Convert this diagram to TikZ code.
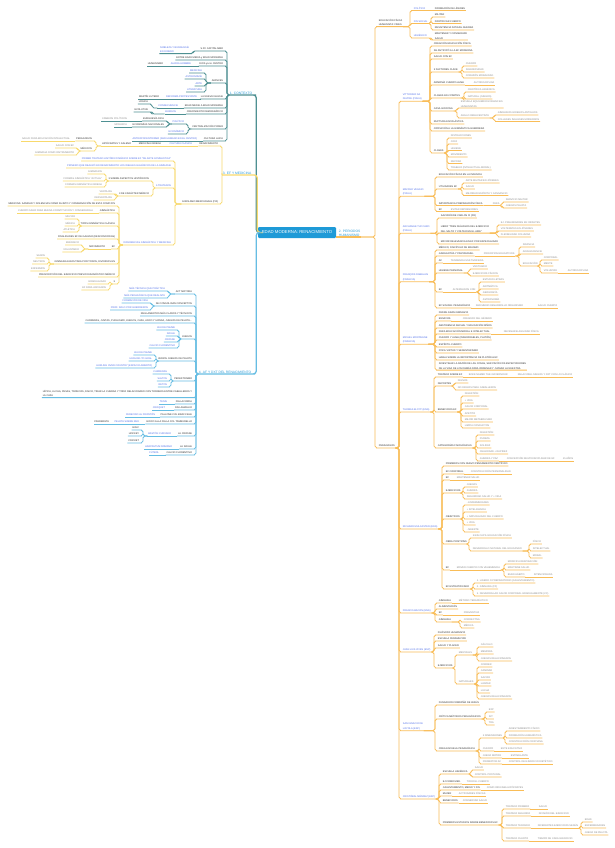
\documentclass[tikz,border=0pt]{standalone}
\usepackage{fontspec}
\setmainfont{Liberation Sans}
\definecolor{tk}{HTML}{2E2E2E}
\definecolor{tb}{HTML}{4F6FEA}
\definecolor{tg}{HTML}{8A8A8A}
\definecolor{tl}{HTML}{2C9BD8}
\definecolor{lo}{HTML}{F9BD58}
\definecolor{lt}{HTML}{4E9092}
\definecolor{ly}{HTML}{F8D96C}
\definecolor{lc}{HTML}{66BDE3}
\definecolor{rootc}{HTML}{1E9AD7}
\newcommand\tfs{\fontsize{2.45}{4.7}\selectfont}
\newcommand\NdR[5]{\node[nd,anchor=west,#2] (#1) at (#3,#4) {#5};}
\newcommand\NdL[5]{\node[nd,anchor=east,#2] (#1) at (#3,#4) {#5};}
\newcommand\MlR[5]{\node[ml,anchor=west,#2] (#1) at (#3,#4) {#5};}
\newcommand\MlL[5]{\node[ml,anchor=east,#2] (#1) at (#3,#4) {#5};}
\newcommand\RC[3]{\draw[con,#1] (#2.south east) -| ([xshift=-3pt]#3.south west) -- (#3.south west) -- (#3.south east);}
\newcommand\LC[3]{\draw[con,#1] (#2.south west) -| ([xshift=3pt]#3.south east) -- (#3.south east) -- (#3.south west);}
\newcommand\RS[3]{\draw[con,#1] (#2.south east) -- (#3.south west) -- (#3.south east);}
\newcommand\LS[3]{\draw[con,#1] (#2.south west) -- (#3.south east) -- (#3.south west);}
\newcommand\RCs[3]{\foreach \chn in {#3}{\RC{#1}{#2}{\chn}}}
\newcommand\LCs[3]{\foreach \chn in {#3}{\LC{#1}{#2}{\chn}}}
\tikzset{
 nd/.style={font=\tfs, inner xsep=0.7pt, inner ysep=0.5pt, text height=2.05pt, text depth=0.5pt},
 ml/.style={font=\tfs, inner xsep=0.7pt, inner ysep=0.5pt, align=left},
 tK/.style={text=tk}, tB/.style={text=tb}, tG/.style={text=tg},
 lab/.style={font=\fontsize{3.3}{4.2}\selectfont, text=tl, inner xsep=0.7pt, inner ysep=0.6pt},
 con/.style={line width=0.8pt, rounded corners=1.8pt},
 mainc/.style={line width=1.25pt, rounded corners=3pt},
}
\begin{document}
\begin{tikzpicture}[x=1pt,y=-1pt]
\fill[white] (0,0) rectangle (614,848);
\useasboundingbox (0,0) rectangle (614,848);

% ---------- root and main branches ----------
\node[fill=rootc, text=white, font=\fontsize{4.3}{5}\selectfont, rounded corners=1.2pt, minimum width=78pt, minimum height=11pt, inner sep=0.5pt] (root) at (297,232.5) {EDAD MODERNA: RENACIMIENTO};
\node[lab, align=left, anchor=west] (p2) at (338,233) {2. PERIODOS\\HUMANISMO};
\node[lab, anchor=west] (ctx) at (229,93) {1. CONTEXTO};
\node[lab, anchor=west] (efm) at (222,173) {3. EF Y MEDICINA};
\node[lab, anchor=west] (af) at (198,372) {4. AF Y DXT DEL RENACIMIENTO};
\draw[mainc,lo] (root.east |- p2.south) -- (p2.south east);
\draw[mainc,lt] (root.west) -- ++(-1.5,0) |- (ctx.south east) -- (ctx.south west);
\draw[mainc,ly] (root.west) -- ++(-0.5,0) |- (efm.south east) -- (efm.south west);
\draw[mainc,lc] (root.west) -- ++(-1.5,0) |- (af.south east) -- (af.south west);

% ---------- branch 1: contexto ----------
\NdL{c1}{tK}{224}{49}{S.XV CAPITALISMO}
\MlL{c1a}{tB}{190}{49.5}{NOBLEZA Y BURGUESÍA\\EN DINERO}
\NdL{c2}{tK}{224}{58}{ENTRE EDAD MEDIA y EDAD MODERNA}
\NdL{c3}{tK}{224}{64}{DIOS ya no CENTRO}
\NdL{c3a}{tB}{192}{64}{AHORA HOMBRE}
\NdL{c3b}{tK}{164}{64}{HUMANISMO}
\NdL{c4}{tK}{224}{81}{AVANCES}
\NdL{c4a}{tB}{203}{71}{MEDICINA}
\NdL{c4b}{tB}{203}{77}{ASTRONOMÍA}
\NdL{c4c}{tB}{203}{84}{ARTE}
\NdL{c4d}{tB}{203}{90}{LITERATURA}
\NdL{c5}{tK}{224}{97}{LA NUEVA IGLESIA}
\NdL{c5a}{tB}{198}{97}{REFORMA PROTESTANTE}
\NdL{c5b}{tK}{160}{97}{MARTÍN LUTERO}
\NdL{c6}{tK}{224}{106}{EDAD MEDIA A EDAD MODERNA}
\NdL{c6a}{tB}{179}{106}{CONSECUENCIA}
\NdL{c6b}{tK}{149}{102}{LÓGICA}
\NdL{c7}{tK}{224}{112}{CRECIMIENTO DEMOGRÁFICO}
\NdL{c7a}{tB}{177}{112}{BURGOS}
\NdL{c7b}{tK}{149}{110}{EVOLUTIVA}
\NdL{c8}{tK}{224}{127}{CENTRALIZACIÓN PODER}
\NdL{c8a}{tB}{185}{122}{POLÍTICO}
\NdL{c8b}{tB}{185}{132}{ECONÓMICO}
\NdL{c8c}{tK}{165}{119}{BURGUESÍA RICA}
\NdL{c8d}{tK}{165}{125}{ECONOMÍAS NACIONALES}
\NdL{c8e}{tG}{128}{119}{CAMBIOS POLÍTICOS}
\NdL{c8f}{tG}{128}{125}{MONARCA}
\NdL{c9}{tK}{224}{139}{CULTURA LAICA}
\NdL{c9a}{tB}{198}{139}{ANTROPOCENTRISMO (SER HUMANO EN EL CENTRO)}
\LCs{lt}{ctx}{c1,c2,c3,c4,c5,c6,c7,c8,c9}
\LC{lt}{c1}{c1a}
\LS{lt}{c3}{c3a}\LS{lt}{c3a}{c3b}
\LCs{lt}{c4}{c4a,c4b,c4c,c4d}
\LS{lt}{c5}{c5a}\LS{lt}{c5a}{c5b}
\LS{lt}{c6}{c6a}\LC{lt}{c6a}{c6b}
\LS{lt}{c7}{c7a}\LC{lt}{c7a}{c7b}
\LCs{lt}{c8}{c8a,c8b}
\LCs{lt}{c8a}{c8c,c8d}
\LS{lt}{c8c}{c8e}\LS{lt}{c8d}{c8f}
\LS{lt}{c9}{c9a}

% ---------- branch 3: EF y medicina ----------
\NdL{f1}{tK}{219}{144}{RENACIMIENTO}
\NdL{f1a}{tB}{193}{144}{CULTURA CLÁSICA}
\NdL{f1b}{tK}{162}{144}{MEDICINA GRIEGA}
\NdL{f1c}{tK}{132}{144}{HIPÓCRATES Y GALENO}
\NdL{f1d}{tK}{93}{139}{PEDAGOGOS}
\NdL{f1e}{tG}{71}{139}{SALUD PARA EDUCACIÓN INTELECTUAL}
\NdL{f1f}{tK}{93}{149}{MÉDICOS}
\NdL{f1g}{tG}{75}{146}{SALUD CON EF}
\NdL{f1h}{tG}{75}{153}{GIMNASIA COMO INSTRUMENTO}
\NdL{f2}{tK}{219}{202}{GIROLAMO MERCURIALE (ITA)}
\NdL{g1}{tB}{172}{159}{PRIMER TRATADO HISTÓRICO MÉDICO SOBRE EF “DE ARTE GYMNASTICA”}
\NdL{g2}{tB}{172}{166}{PIONERO QUE REALIZÓ EN RENACIMIENTO LOS IDEALES GALÉNICOS DE LA GIMNASIA}
\NdL{g3}{tB}{172}{186}{6 TRATADOS}
\NdL{g3a}{tK}{150}{179}{3 SOBRE ASPECTOS HISTÓRICOS}
\NdL{g3b}{tK}{150}{194}{3 DE CARÁCTER MÉDICO}
\NdL{g3c}{tG}{103}{172}{GIMNASIOS}
\NdL{g3d}{tG}{103}{179}{FORMAS GIMNÁSTICA “ACTUAL”}
\NdL{g3e}{tG}{103}{185}{FORMAS GIMNÁSTICA GRIEGA}
\NdL{g3f}{tG}{113}{192}{VENTAJAS}
\NdL{g3g}{tG}{113}{198}{DESVENTAJAS}
\NdL{g4}{tB}{172}{243}{DIFERENCIAS GIMNÁSTICA Y MEDICINA}
\NdL{h1}{tK}{116}{204}{MEDICINA: SANIDAD Y DOLENCIAS COMO SUJETO Y CONSERVACIÓN DE ESTA COMO FIN}
\NdL{h2}{tK}{116}{211}{GIMNÁSTICA}
\NdL{h2a}{tG}{94}{211}{CUERPO SANO PARA BUENA CONSTITUCIÓN Y CONSERVARLA}
\NdL{h3}{tK}{116}{224}{TIPOS GIMNÁSTICA CLÁSICA}
\NdL{h3a}{tG}{76}{217}{MILITAR}
\NdL{h3b}{tG}{76}{224}{MÉDICA}
\NdL{h3c}{tG}{76}{230}{ATLÉTICA}
\NdL{h4}{tK}{116}{237}{FINALIDADES EF DE GALENO (DESCONOCIDAS)}
\NdL{h5}{tK}{116}{247}{EF}
\NdL{h5a}{tK}{106}{247}{MOVIMIENTO}
\NdL{h5b}{tG}{80}{243}{ENÉRGICO}
\NdL{h5c}{tG}{80}{250}{VOLUNTARIO}
\NdL{h6}{tK}{116}{262}{GIMNASIA EJECUTADA POR TODOS, DIVIDIDOS EN}
\NdL{h6a}{tG}{46}{256}{SANOS}
\NdL{h6b}{tG}{46}{262}{NEUTROS}
\NdL{h6c}{tG}{46}{269}{ENFERMOS}
\NdL{h7}{tK}{116}{275}{PRESCRIPCIÓN DEL EJERCICIO PREVIO DIAGNÓSTICO MÉDICO}
\NdL{h8}{tK}{116}{282}{3}
\NdL{h8a}{tG}{107}{282}{GRADUALIDAD}
\NdL{h8b}{tG}{107}{288}{EF PARA ANCIANOS}
\LCs{ly}{efm}{f1,f2}
\LS{ly}{f1}{f1a}\LS{ly}{f1a}{f1b}\LS{ly}{f1b}{f1c}
\LCs{ly}{f1c}{f1d,f1f}
\LS{ly}{f1d}{f1e}
\LCs{ly}{f1f}{f1g,f1h}
\LCs{ly}{f2}{g1,g2,g3,g4}
\LCs{ly}{g3}{g3a,g3b}
\LCs{ly}{g3a}{g3c,g3d,g3e}
\LCs{ly}{g3b}{g3f,g3g}
\LCs{ly}{g4}{h1,h2,h3,h4,h5,h6,h7,h8}
\LS{ly}{h2}{h2a}
\LCs{ly}{h3}{h3a,h3b,h3c}
\LS{ly}{h5}{h5a}
\LCs{ly}{h5a}{h5b,h5c}
\LCs{ly}{h6}{h6a,h6b,h6c}
\LCs{ly}{h8}{h8a,h8b}

% ---------- branch 4: AF y DXT ----------
\NdL{a1}{tK}{193}{292}{ACT MOTORA}
\NdL{a1a}{tB}{166}{289}{MÁS TÉCNICA QUE PRÁCTICA}
\NdL{a1b}{tB}{166}{296}{MÁS PEDAGÓGICA QUE REALISTA}
\NdL{a2}{tK}{193}{304}{SE CONSOLIDAN CONCEPTOS}
\NdL{a2a}{tB}{149}{301}{FORMACIÓN DE VIDA}
\NdL{a2b}{tB}{149}{308}{PROF. SOLO POR GUERREROS}
\NdL{a3}{tK}{193}{314}{REGLAMENTOS MÁS CLAROS Y TÉCNICOS}
\NdL{a4}{tK}{193}{321}{CARRERAS, JUSTAS, PUGILISMO, JUEGOS, CAZA, ARCO Y HONDA, JUEGOS DE PELOTA...}
\NdL{a5}{tK}{193}{337}{JUEGOS}
\NdL{a5a}{tB}{176}{328}{JEU DE PAUME}
\NdL{a5b}{tB}{176}{334}{SOULE}
\NdL{a5c}{tB}{176}{340}{CROSSE}
\NdL{a5d}{tB}{176}{346}{CALCIO FLORENTINO}
\NdL{a6}{tK}{193}{359}{VARIOS JUEGOS DE PELOTA}
\NdL{a6a}{tB}{153}{353}{JEU DE PAUME}
\NdL{a6b}{tB}{153}{359}{HURLING TO GOAL}
\NdL{a6c}{tB}{153}{366}{HURLING OVER COUNTRY (ESPACIO ABIERTO)}
\NdL{a7}{tK}{193}{379}{PEDESTRISMO}
\NdL{a7a}{tB}{168}{372}{CARRERAS}
\NdL{a7b}{tB}{168}{379}{SALTOS}
\NdL{a7c}{tB}{168}{385}{RETOS}
\MlL{a8}{tK}{193}{393.5}{HÍPICA, LUCHA, PESAS, TRONCOS, DISCO, TIRAR LA CUERDA Y TODO RELACIONADO CON TORNEOS ENTRE CABALLEROS Y\\LA CAZA}
\NdL{a9}{tK}{193}{402}{PALLACORDA}
\NdL{a9a}{tB}{168}{402}{TENIS}
\NdL{a10}{tK}{193}{408}{PALLAMAGLIO}
\NdL{a10a}{tB}{166}{408}{CROQUET}
\NdL{a11}{tK}{193}{415}{PALLONE COL BRACCIALE}
\NdL{a11a}{tB}{156}{415}{PARECIDO AL FRONTÓN}
\NdL{a12}{tK}{193}{422}{GIOCO ALLA PALLA COL TAMBURELLO}
\NdL{a12a}{tB}{140}{422}{PELOTA SOBRE RED}
\NdL{a12b}{tK}{110}{422}{PANDERETA}
\NdL{a13}{tK}{193}{434}{LA CROSSE}
\NdL{a13a}{tB}{172}{434}{BASTÓN CURVADO}
\NdL{a13b}{tK}{140}{428}{GOLF}
\NdL{a13c}{tK}{140}{434}{HOCKEY}
\NdL{a13d}{tK}{140}{441}{CRICKET}
\NdL{a14}{tK}{193}{447}{LA SOULE}
\NdL{a14a}{tB}{173}{447}{HARPASTUM ROMANO}
\NdL{a15}{tK}{193}{453}{CALCIO FLORENTINO}
\NdL{a15a}{tB}{160}{453}{FÚTBOL}
\LCs{lc}{af}{a1,a2,a3,a4,a5,a6,a7,a8,a9,a10,a11,a12,a13,a14,a15}
\LCs{lc}{a1}{a1a,a1b}
\LCs{lc}{a2}{a2a,a2b}
\LCs{lc}{a5}{a5a,a5b,a5c,a5d}
\LCs{lc}{a6}{a6a,a6b,a6c}
\LCs{lc}{a7}{a7a,a7b,a7c}
\LS{lc}{a9}{a9a}\LS{lc}{a10}{a10a}\LS{lc}{a11}{a11a}
\LS{lc}{a12}{a12a}\LS{lc}{a12a}{a12b}
\LS{lc}{a13}{a13a}
\LCs{lc}{a13a}{a13b,a13c,a13d}
\LS{lc}{a14}{a14a}\LS{lc}{a15}{a15a}

% ---------- branch 2: periodos ----------
\MlR{efh}{tK}{378}{22.5}{EDUCACIÓN FÍSICA\\HUMANISTA: FINES}
\NdR{ped}{tK}{378}{446}{PEDAGOGOS}
\RCs{lo}{p2}{efh,ped}
\NdR{pol}{tB}{413}{8.5}{POLÍTICO}
\NdR{soc}{tB}{413}{21.5}{FIN SOCIAL}
\NdR{hig}{tB}{413}{36}{HIGIÉNICO}
\NdR{pol1}{tK}{434}{8.5}{FORMACIÓN DE LÍDERES}
\NdR{soc1}{tK}{434}{15}{MILITAR}
\NdR{soc2}{tK}{434}{21.5}{FORTIFICAR CUERPO}
\NdR{soc3}{tK}{434}{28}{RESISTENCIA FATIGAS GUERRA}
\MlR{hig1}{tK}{434}{36}{MANTENER Y CONSERVAR\\SALUD}
\RCs{lo}{efh}{pol,soc,hig}
\RS{lo}{pol}{pol1}
\RCs{lo}{soc}{soc1,soc2,soc3}
\RC{lo}{hig}{hig1}

\MlR{vit}{tB}{402}{97}{VITTORINO DA\\FELTRE (ITALIA)}
\MlR{maf}{tB}{402}{192}{MAFFEO VEGGIO\\(ITALIA)}
\MlR{tuc}{tB}{402}{229}{ARCHANGE TUCCARO\\(ITALIA)}
\MlR{rab}{tB}{402}{277.5}{FRANÇOIS RABELAIS\\(FRANCIA)}
\MlR{mon}{tB}{402}{340}{MICHEL MONTAIGNE\\(FRANCIA)}
\NdR{ely}{tB}{402}{410}{THOMAS ELYOT (ENG)}
\NdR{mul}{tB}{402}{527}{RICHARD MULCASTER (ENG)}
\NdR{bac}{tB}{402}{611}{FRANCIS BACON (ENG)}
\NdR{viv}{tB}{402}{650}{JUAN LUIS VIVES (ESP)}
\MlR{loy}{tB}{402}{726.5}{SAN IGNACIO DE\\LOYOLA (ESP)}
\NdR{men}{tB}{402}{797}{CRISTÓBAL MÉNDEZ (ESP)}
\RCs{lo}{ped}{vit,maf,tuc,rab,mon,ely,mul,bac,viv,loy,men}

% Vittorino
\NdR{v1}{tK}{433}{44}{CREACIÓN EDUCACIÓN FÍSICA}
\NdR{v2}{tK}{433}{51}{SE ANTICIPÓ A LA EF MODERNA}
\NdR{v3}{tK}{433}{57}{SALUD CON EF}
\NdR{v4}{tK}{433}{70}{3 FACTORES CLAVE}
\NdR{v4a}{tG}{465}{64}{CUERPO}
\NdR{v4b}{tG}{465}{70}{INGENIOSIDAD}
\NdR{v4c}{tG}{465}{76}{CORAZÓN MORALIDAD}
\NdR{v5}{tK}{433}{83}{ARMONÍA CUERPO-ALMA}
\NdR{v5a}{tG}{473}{83}{AUTODISCIPLINA}
\NdR{v6}{tK}{433}{96}{CLASES EN 2 PARTES}
\NdR{v6a}{tG}{467}{90}{CIENTÍFICA HIGIÉNICA}
\NdR{v6b}{tG}{467}{97}{NATURAL (JUEGOS)}
\NdR{v7}{tK}{433}{109}{CASA GIOCOSA}
\MlR{v7a}{tG}{460}{104}{ESCUELA EQUILIBRIO EXIGENCIAS\\HUMANISTAS}
\NdR{v7b}{tG}{460}{116}{ANILLO RENACENTISTA}
\NdR{v7c}{tG}{497}{113}{GIMNASIOS GRIEGOS ANTIGUOS}
\NdR{v7d}{tG}{497}{119.5}{COLLEGES INGLESES MODERNOS}
\NdR{v8}{tK}{433}{122}{RUPTURA ESCOLÁSTICA}
\NdR{v9}{tK}{433}{129}{OPOSICIÓN A LA GIMNÁSTICA GUERRERA}
\NdR{v10}{tK}{433}{151}{CLASES}
\NdR{v10a}{tG}{450}{136}{DISTRACCIONES}
\NdR{v10b}{tG}{450}{142}{OCIO}
\NdR{v10c}{tG}{450}{148.5}{HIGIENE}
\NdR{v10d}{tG}{450}{155}{MOVIMIENTO}
\NdR{v10e}{tG}{450}{161.5}{REPOSO}
\NdR{v10f}{tG}{450}{168}{TRABAJO (INTELECTUAL-MORAL)}
\RCs{lo}{vit}{v1,v2,v3,v4,v5,v6,v7,v8,v9,v10}
\RCs{lo}{v4}{v4a,v4b,v4c}
\RS{lo}{v5}{v5a}
\RCs{lo}{v6}{v6a,v6b}
\RCs{lo}{v7}{v7a,v7b}
\RCs{lo}{v7b}{v7c,v7d}
\RCs{lo}{v10}{v10a,v10b,v10c,v10d,v10e,v10f}

% Maffeo
\NdR{m1}{tK}{438}{175}{EDUCACIÓN FÍSICA EN LA INFANCIA}
\NdR{m2}{tK}{438}{187}{UTILIDADES EF}
\NdR{m2a}{tG}{465}{181}{ARTE MILITAR EN JÓVENES}
\NdR{m2b}{tG}{465}{187}{SALUD}
\NdR{m2c}{tG}{465}{193.5}{MEJORAR ESPÍRITU Y CANSANCIO}
\NdR{m3}{tK}{438}{203.5}{IMPORTANCIA PREPARACIÓN FÍSICA}
\NdR{m3a}{tG}{492}{203.5}{PARA}
\NdR{m3b}{tG}{505}{200}{SERVICIO MILITAR}
\NdR{m3c}{tG}{505}{206}{JUEGOS PELOTA}
\NdR{m4}{tK}{438}{209.5}{EF}
\NdR{m4a}{tG}{450}{209.5}{EVITAR DEPRESIONES}
\RCs{lo}{maf}{m1,m2,m3,m4}
\RCs{lo}{m2}{m2a,m2b,m2c}
\RS{lo}{m3}{m3a}
\RCs{lo}{m3a}{m3b,m3c}
\RS{lo}{m4}{m4a}

% Tuccaro
\NdR{t1}{tK}{440}{216}{SALTARÍN DE CARLOS IX (FR)}
\MlR{t2}{tK}{440}{229}{LIBRO “TRES DIÁLOGOS DEL EJERCICIO\\DEL SALTO Y VOLTEO EN EL AIRE”}
\NdR{t2a}{tG}{500}{223}{EJ. PRELIMINARES EN INFANTES}
\NdR{t2b}{tG}{500}{229}{VOLTERETAS EN JÓVENES}
\NdR{t2c}{tG}{500}{235}{FLEXIBILIDAD COLUMNA}
\NdR{t3}{tK}{440}{242}{MAYOR RELEVANCIA EN EF POR ESPECIALIDAD}
\RCs{lo}{tuc}{t1,t2,t3}
\RCs{lo}{t2}{t2a,t2b,t2c}

% Rabelais
\NdR{r1}{tK}{438}{248}{MÉDICO, DISCÍPULO DE ERASMO}
\NdR{r2}{tK}{438}{254}{GARGANTÚA Y PANTAGRUEL}
\NdR{r2a}{tG}{483}{254}{PRINCIPIOS EDUCATIVOS}
\NdR{r2b}{tG}{522}{245}{INFANCIA}
\NdR{r2c}{tG}{522}{252}{ADOLESCENCIA}
\NdR{r2d}{tG}{522}{264}{EDUCACIÓN}
\NdR{r2e}{tG}{543}{258}{CORPORAL}
\NdR{r2f}{tG}{543}{264}{MENTE}
\NdR{r2g}{tG}{543}{271}{VOLUNTAD}
\NdR{r2h}{tG}{567}{271}{AUTODISCIPLINA}
\NdR{r3}{tK}{438}{261}{AF}
\NdR{r3a}{tG}{450}{261}{TENDENCIA MULTIVARIADA}
\NdR{r4}{tK}{438}{271}{HIGIENE PERSONAL}
\NdR{r4a}{tG}{472}{267}{VESTUARIO}
\NdR{r4b}{tG}{472}{274}{EJERCICIOS FÍSICOS}
\NdR{r5}{tK}{438}{290}{EF}
\NdR{r5a}{tG}{452}{290}{ALTERNADOS CON}
\NdR{r5b}{tG}{482}{280}{ESTUDIO LETRAS}
\NdR{r5c}{tG}{482}{287}{ARITMÉTICA}
\NdR{r5d}{tG}{482}{293}{GEOGRAFÍA}
\NdR{r5e}{tG}{482}{300}{ASTRONOMÍA}
\NdR{r6}{tK}{438}{306}{EF SIN OBJ. PEDAGÓGICO}
\NdR{r6a}{tG}{475}{306}{SER MEDIO DESARROLLO ORGANISMO}
\NdR{r6b}{tG}{537}{306}{SALUD CUERPO}
\RCs{lo}{rab}{r1,r2,r3,r4,r5,r6}
\RS{lo}{r2}{r2a}
\RCs{lo}{r2a}{r2b,r2c,r2d}
\RCs{lo}{r2d}{r2e,r2f,r2g}
\RS{lo}{r2g}{r2h}
\RS{lo}{r3}{r3a}
\RCs{lo}{r4}{r4a,r4b}
\RS{lo}{r5}{r5a}
\RCs{lo}{r5a}{r5b,r5c,r5d,r5e}
\RS{lo}{r6}{r6a}\RS{lo}{r6a}{r6b}

% Montaigne
\NdR{n1}{tK}{438}{313}{PADRE GRAN GIMNASTA}
\NdR{n2}{tK}{438}{319}{ENSAYOS}
\NdR{n2a}{tG}{462}{319}{CREADOR DEL GÉNERO}
\NdR{n3}{tK}{438}{326}{ABSTINENCIA SEXUAL Y EDUCACIÓN NIÑOS}
\NdR{n4}{tK}{438}{332}{PARA EDUCACIÓN MORAL E INTELECTUAL}
\NdR{n4a}{tG}{503}{332}{NECESARIA AGILIDAD FÍSICA}
\NdR{n5}{tK}{438}{338}{CUERPO Y ALMA (INSEPARABLES, PLATÓN)}
\NdR{n6}{tK}{438}{345}{ESPÍRITU-CUERPO}
\NdR{n7}{tK}{438}{351}{POCA VIRTUD Y SEDENTARISMO}
\NdR{n8}{tK}{438}{358}{HABLA SOBRE LA IMPORTANCIA DE PLATÓN \& EF}
\MlR{n9}{tK}{438}{366}{INVESTIGAR LA RAZÓN DE LAS COSAS, SER PACÍFICOS ESPECTADORES\\DE LA VIDA DE LOS DEMÁS PARA ORDENAR Y JUZGAR LA NUESTRA}
\RCs{lo}{mon}{n1,n2,n3,n4,n5,n6,n7,n8,n9}
\RS{lo}{n2}{n2a}\RS{lo}{n4}{n4a}

% Elyot
\NdR{e1}{tK}{437}{375}{TRATADO SOBRE EF}
\NdR{e1a}{tG}{468}{375}{BOKE NAMED THE GOVERNOUR}
\NdR{e1b}{tG}{517}{375}{RELACIONA JUEGOS Y DXT CON LO CLÁSICO}
\NdR{e2}{tK}{437}{384}{DEPORTES}
\NdR{e2a}{tG}{457}{381}{DIGNOS}
\NdR{e2b}{tG}{457}{388}{NO DIGNOS PARA CABALLEROS}
\NdR{e3}{tK}{437}{410}{BENEFICIOS EF}
\NdR{e3a}{tG}{464}{394}{DIGESTIÓN}
\NdR{e3b}{tG}{464}{401}{+ VIDA}
\NdR{e3c}{tG}{464}{407}{CALOR CORPORAL}
\NdR{e3d}{tG}{464}{414}{APETITO}
\NdR{e3e}{tG}{464}{420}{MEJOR METABOLISMO}
\NdR{e3f}{tG}{464}{426}{LIMPIA CONDUCTOS}
\NdR{e4}{tK}{437}{446}{CATEGORÍAS FISIOLÓGICAS}
\NdR{e4a}{tG}{479}{433}{DIGESTIÓN}
\NdR{e4b}{tG}{479}{439}{PUREZA}
\NdR{e4c}{tG}{479}{446}{SOLIDEZ}
\NdR{e4d}{tG}{479}{452}{CELERIDAD + RAPIDEZ}
\NdR{e4e}{tG}{479}{459}{GUERRA Y PAZ}
\NdR{e4f}{tG}{506}{459}{CONCEPCIÓN MULTIDISCIPLINAR DE EF}
\NdR{e4g}{tG}{562}{459}{15 AÑOS}
\RCs{lo}{ely}{e1,e2,e3,e4}
\RS{lo}{e1}{e1a}\RS{lo}{e1a}{e1b}
\RCs{lo}{e2}{e2a,e2b}
\RCs{lo}{e3}{e3a,e3b,e3c,e3d,e3e,e3f}
\RCs{lo}{e4}{e4a,e4b,e4c,e4d,e4e}
\RS{lo}{e4e}{e4f}\RS{lo}{e4f}{e4g}

% Mulcaster
\NdR{u1}{tK}{445}{464}{PRIMEROS CON NUEVO PENSAMIENTO CIENTÍFICO}
\NdR{u2}{tK}{445}{472}{EF CORPORAL}
\NdR{u2a}{tG}{470}{472}{CONSTRUCCIÓN PERSONALIDAD}
\NdR{u3}{tK}{445}{478}{EF}
\NdR{u3a}{tG}{456}{478}{MANTENER SALUD}
\NdR{u4}{tK}{445}{491}{EJERCICIOS}
\NdR{u4a}{tG}{466}{485}{JUEGOS}
\NdR{u4b}{tG}{466}{491}{GUERRA}
\NdR{u4c}{tG}{466}{497}{SEGURIDAD SALUD Y + VIDA}
\NdR{u5}{tK}{445}{517}{OBJETIVOS}
\NdR{u5a}{tG}{466}{503}{- ENFERMEDADES}
\NdR{u5b}{tG}{466}{510}{+ INTELIGENCIA}
\NdR{u5c}{tG}{466}{517}{+ NATURALIDAD DEL CUERPO}
\NdR{u5d}{tG}{466}{523}{+ VIDA}
\NdR{u5e}{tG}{466}{530}{- MUERTE}
\NdR{u6}{tK}{445}{542}{OBRA POSITIONS}
\NdR{u6a}{tG}{472}{536}{33/45 CAPS. EDUCACIÓN FÍSICA}
\NdR{u6b}{tG}{472}{549}{DESARROLLO NATURAL DEL EDUCANDO}
\NdR{u6c}{tG}{532}{542}{FÍSICO}
\NdR{u6d}{tG}{532}{549}{INTELECTUAL}
\NdR{u6e}{tG}{532}{556}{MORAL}
\NdR{u7}{tK}{445}{568}{EF}
\NdR{u7a}{tG}{456}{568}{MOVER CUERPO CON VEHEMENCIA}
\NdR{u7b}{tG}{507}{562}{MODIFICA RESPIRACIÓN}
\NdR{u7c}{tG}{507}{568}{MANTIENE SALUD}
\NdR{u7d}{tG}{507}{575}{BUEN HÁBITO}
\NdR{u7e}{tG}{533}{575}{INTENCIONADA}
\NdR{u8}{tK}{445}{587}{EF ESTRATIFICADO}
\NdR{u8a}{tG}{476}{581}{1. LIGERO O PREPARATORIO (CALENTAMIENTO)}
\NdR{u8b}{tG}{476}{587}{2. GIMNASIA (FF)}
\NdR{u8c}{tG}{476}{594}{3. DESARROLLAR CALOR CORPORAL GRADUALMENTE (VC)}
\RCs{lo}{mul}{u1,u2,u3,u4,u5,u6,u7,u8}
\RS{lo}{u2}{u2a}\RS{lo}{u3}{u3a}
\RCs{lo}{u4}{u4a,u4b,u4c}
\RCs{lo}{u5}{u5a,u5b,u5c,u5d,u5e}
\RCs{lo}{u6}{u6a,u6b}
\RCs{lo}{u6b}{u6c,u6d,u6e}
\RS{lo}{u7}{u7a}
\RCs{lo}{u7a}{u7b,u7c,u7d}
\RS{lo}{u7d}{u7e}
\RCs{lo}{u8}{u8a,u8b,u8c}

% Bacon
\NdR{bk1}{tK}{438}{601}{GIMNASIA}
\NdR{bk1a}{tG}{458}{601}{MÉTODO TERAPÉUTICO}
\NdR{bk2}{tK}{438}{607}{ALIMENTACIÓN}
\NdR{bk3}{tK}{438}{613}{EF}
\NdR{bk3a}{tG}{463}{613}{PREVENTIVA}
\NdR{bk4}{tK}{438}{620}{GIMNASIA}
\NdR{bk4a}{tG}{463}{620}{CORRECTIVA}
\NdR{bk4b}{tG}{463}{626}{MÉDICA}
\RCs{lo}{bac}{bk1,bk2,bk3,bk4}
\RS{lo}{bk1}{bk1a}\RS{lo}{bk3}{bk3a}
\RCs{lo}{bk4}{bk4a,bk4b}

% Vives
\NdR{w1}{tK}{437}{633}{FILÓSOFO HUMANISTA}
\NdR{w2}{tK}{437}{639}{ESCUELA PARAMILITAR}
\NdR{w3}{tK}{437}{646}{SALUD Y PLACER}
\NdR{w4}{tK}{437}{666}{EJERCICIOS}
\NdR{w4a}{tG}{458}{653}{MENTALES}
\NdR{w4b}{tG}{458}{682}{NATURALES}
\NdR{w5}{tG}{480}{645}{CÁLCULO}
\NdR{w6}{tG}{480}{652}{MEMORIA}
\NdR{w7}{tG}{480}{659}{JUEGOS RELACIONADOS}
\NdR{w8}{tG}{480}{665}{CORRER}
\NdR{w9}{tG}{480}{671}{CAMINAR}
\NdR{w10}{tG}{480}{678}{SALTAR}
\NdR{w11}{tG}{480}{684}{LANZAR}
\NdR{w12}{tG}{480}{691}{LUCHA}
\NdR{w13}{tG}{480}{697}{JUEGOS RELACIONADOS}
\RCs{lo}{viv}{w1,w2,w3,w4}
\RCs{lo}{w4}{w4a,w4b}
\RCs{lo}{w4a}{w5,w6,w7}
\RCs{lo}{w4b}{w8,w9,w10,w11,w12,w13}

% Loyola
\NdR{l1}{tK}{438}{703}{FUNDADOR COMPAÑÍA DE JESÚS}
\NdR{l2}{tK}{438}{717}{CRÍTICA MÉTODOS PEDAGÓGICOS}
\NdR{l2a}{tG}{488}{710}{EXP}
\NdR{l2b}{tG}{488}{717}{INT}
\NdR{l2c}{tG}{488}{723}{TRA}
\NdR{l3}{tK}{438}{749}{CREA ESCUELA PEDAGÓGICA}
\NdR{l3a}{tG}{482}{736}{3 DIMENSIONES}
\NdR{l3b}{tG}{508}{729}{ADIESTRAMIENTO FÍSICO}
\NdR{l3c}{tG}{508}{736}{FORMACIÓN HUMANÍSTICA}
\NdR{l3d}{tG}{508}{742}{CONSTRUCCIÓN CRISTIANA}
\NdR{l3e}{tG}{482}{749}{CUERPO}
\NdR{l3f}{tG}{500}{749}{ENTE EDUCATIVO}
\NdR{l3g}{tG}{482}{756}{JUEGO MOTOR}
\NdR{l3h}{tG}{510}{756}{ESTIMULANTE}
\NdR{l3i}{tG}{482}{762}{PROMOTOR AF}
\NdR{l3j}{tG}{508}{762}{CONTROL DE EJERCICIO DIETÉTICO}
\RCs{lo}{loy}{l1,l2,l3}
\RCs{lo}{l2}{l2a,l2b,l2c}
\RCs{lo}{l3}{l3a,l3e,l3g,l3i}
\RCs{lo}{l3a}{l3b,l3c,l3d}
\RS{lo}{l3e}{l3f}\RS{lo}{l3g}{l3h}\RS{lo}{l3i}{l3j}

% Mendez
\NdR{d1}{tK}{442}{772}{ESCUELA HIGIÉNICA}
\NdR{d1a}{tG}{474}{768}{SALUD}
\NdR{d1b}{tG}{474}{775}{CONTROL POSTURAL}
\NdR{d2}{tK}{442}{782}{EJ COMO MED.}
\NdR{d2a}{tG}{466}{782}{TODO EL CUERPO}
\NdR{d3}{tK}{442}{788}{CALENTAMIENTO, MEDIO Y FIN}
\NdR{d3a}{tG}{486}{788}{COMO INDICABA HIPÓCRATES}
\NdR{d4}{tK}{442}{794}{MUJER}
\NdR{d4a}{tG}{458}{794}{ACTIVIDADES FÍSICAS}
\NdR{d5}{tK}{442}{801}{BENEFICIOS}
\NdR{d5a}{tG}{462}{801}{CONSERVAR SALUD}
\NdR{d6}{tK}{442}{823}{PRIMEROS ESTUDIOS SOBRE BENEFICIOS EF}
\NdR{d6a}{tG}{505}{807}{TRATADO PRIMERO}
\NdR{d6b}{tG}{538}{807}{SALUD}
\NdR{d6c}{tG}{505}{814}{TRATADO SEGUNDO}
\NdR{d6d}{tG}{538}{814}{DIVISIÓN DEL EJERCICIO}
\NdR{d6e}{tG}{505}{826}{TRATADO TERCERO}
\NdR{d6f}{tG}{537}{826}{DIFERENTES EJERCICIOS SEGÚN}
\NdR{d6g}{tG}{584}{820}{EDAD}
\NdR{d6h}{tG}{584}{826}{ENFERMEDADES}
\NdR{d6i}{tG}{584}{833}{JUEGO DE PELOTA}
\NdR{d6j}{tG}{505}{839}{TRATADO CUARTO}
\NdR{d6k}{tG}{537}{839}{TIEMPO DE CADA EJERCICIO}
\RCs{lo}{men}{d1,d2,d3,d4,d5,d6}
\RCs{lo}{d1}{d1a,d1b}
\RS{lo}{d2}{d2a}\RS{lo}{d3}{d3a}\RS{lo}{d4}{d4a}\RS{lo}{d5}{d5a}
\RCs{lo}{d6}{d6a,d6c,d6e,d6j}
\RS{lo}{d6a}{d6b}\RS{lo}{d6c}{d6d}\RS{lo}{d6e}{d6f}\RS{lo}{d6j}{d6k}
\RCs{lo}{d6f}{d6g,d6h,d6i}
\end{tikzpicture}
\end{document}
